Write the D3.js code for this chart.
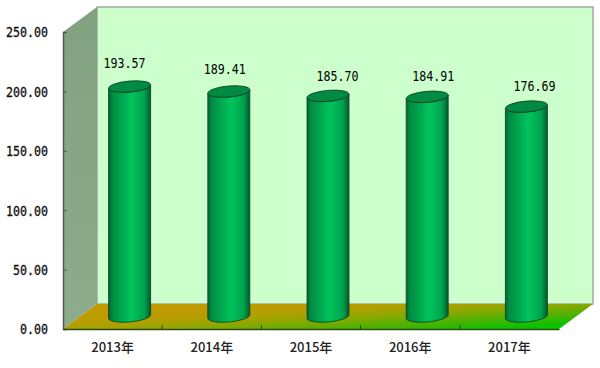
<!DOCTYPE html>
<html lang="zh">
<head>
<meta charset="utf-8">
<script src="https://d3js.org/d3.v7.min.js"></script>
<style>
html, body { margin: 0; padding: 0; background: #fff; }
svg { display: block; }
.val { font-family: "DejaVu Sans Mono", monospace; font-size: 13.5px; fill: #000; }
.yt text { font-family: "DejaVu Sans Mono", monospace; font-size: 13.5px; fill: #111; stroke: #111; stroke-width: 0.3px; }
.xt text { font-family: "Noto Sans CJK SC", sans-serif; font-size: 13px; font-weight: 500; fill: #222; }
</style>
</head>
<body>
<div id="chart"></div>
<script>
var years = ["2013年", "2014年", "2015年", "2016年", "2017年"];
var values = [193.57, 189.41, 185.70, 184.91, 176.69];
var yTicks = [0, 50, 100, 150, 200, 250];

var W = 600, H = 368;
var left = 63, right = 559, top3d = 32, bottom = 329;
var dx = 34, dy = -25; // depth of the box
var charW = 7; // half width digits

// the value labels were moved by hand in the original
var labelDx = [-5, -4, 9.5, 6, 8];
var labelDy = [-19, -17, -15, -16, -15.5];

var svg = d3.select("#chart").append("svg").attr("width", W).attr("height", H);

var x = d3.scaleBand().domain(years).range([left, right]);
var y = d3.scaleLinear().domain([0, 250]).range([bottom, top3d]);

var defs = svg.append("defs");

function grad(id, x1, y1, x2, y2, stops) {
  var g = defs.append("linearGradient").attr("id", id)
    .attr("gradientUnits", "userSpaceOnUse")
    .attr("x1", x1).attr("y1", y1).attr("x2", x2).attr("y2", y2);
  stops.forEach(function (s) {
    g.append("stop").attr("offset", s[0]).attr("stop-color", s[1]);
  });
}
grad("floor", 63, 304, 66, 354, [[0, "#c29a00"], [0.35, "#bc9c00"], [0.5, "#a8a200"], [0.66, "#80aa00"], [0.86, "#40b400"], [1, "#08c400"]]);
grad("side", 0, 30, 0, 330, [[0, "#82a282"], [1, "#8cac8c"]]);

var cylGrad = defs.append("linearGradient").attr("id", "cyl");
[[0, "#006431"], [0.08, "#008a42"], [0.55, "#00c45c"], [0.85, "#00a24e"], [1, "#005c2c"]].forEach(function (s) {
  cylGrad.append("stop").attr("offset", s[0]).attr("stop-color", s[1]);
});

// back wall
svg.append("rect")
  .attr("x", left + dx).attr("y", top3d + dy)
  .attr("width", right - left).attr("height", bottom - top3d)
  .attr("fill", "#ccffcc").attr("stroke", "#a3a8a3").attr("stroke-width", 1.5);

// left wall
svg.append("path")
  .attr("d", d3.line()([[left, top3d], [left + dx, top3d + dy], [left + dx, bottom + dy], [left, bottom]]) + "Z")
  .attr("fill", "url(#side)");

// floor
svg.append("path")
  .attr("d", d3.line()([[left, bottom], [left + dx, bottom + dy], [right + dx, bottom + dy], [right, bottom]]) + "Z")
  .attr("fill", "url(#floor)");

// axes
var yAxis = d3.axisLeft(y).tickValues(yTicks).tickSize(-4).tickPadding(15)
  .tickFormat(d3.format(".2f"));
var gy = svg.append("g").attr("class", "yt").attr("transform", "translate(" + left + ",0)").call(yAxis);
gy.select(".domain").attr("stroke", "#555").attr("stroke-width", 1.5);
gy.selectAll("line").attr("stroke", "#555");
gy.selectAll("text").attr("dy", "0.36em")
  .attr("textLength", function (d) { return d3.format(".2f")(d).length * charW; })
  .attr("lengthAdjust", "spacingAndGlyphs");

var xAxis = d3.axisBottom(x).tickSize(0).tickPadding(14);
var gx = svg.append("g").attr("class", "xt").attr("transform", "translate(0," + bottom + ")").call(xAxis);
gx.select(".domain").attr("stroke", "#2f4a18").attr("stroke-width", 1.5);

// separators on the floor edge
svg.selectAll(".sep").data(years.slice(1)).enter().append("line")
  .attr("x1", function (d) { return x(d); })
  .attr("x2", function (d) { return x(d); })
  .attr("y1", bottom).attr("y2", bottom - 4)
  .attr("stroke", "#2f4a18");

// cylinders
var rx = 21, ry = 5.5, tilt = -5, lift = 1.8;
var baseY = 316.5;
var scaleH = function (v) { return y(0) - y(v); };
var cx = function (i) { return x(years[i]) + x.bandwidth() / 2 + dx / 2; };

var bars = svg.selectAll(".cyl").data(values).enter().append("g").attr("class", "cyl");

bars.append("path")
  .attr("d", function (d, i) {
    var c = cx(i), t = baseY - scaleH(d);
    return "M" + (c - rx) + "," + (t + lift) +
      "L" + (c - rx) + "," + (baseY + lift) +
      "A" + rx + "," + ry + " " + tilt + " 0 0 " + (c + rx) + "," + (baseY - lift) +
      "L" + (c + rx) + "," + (t - lift) +
      "A" + rx + "," + ry + " " + tilt + " 0 1 " + (c - rx) + "," + (t + lift) + "Z";
  })
  .attr("fill", "url(#cyl)").attr("stroke", "#0c3c20").attr("stroke-width", 0.8);

bars.append("ellipse")
  .attr("rx", rx).attr("ry", ry)
  .attr("transform", function (d, i) {
    return "translate(" + cx(i) + "," + (baseY - scaleH(d)) + ") rotate(" + tilt + ")";
  })
  .attr("fill", "#008a42").attr("stroke", "#0c3c20").attr("stroke-width", 0.8);

bars.append("text").attr("class", "val")
  .attr("text-anchor", "middle")
  .attr("textLength", 6 * charW).attr("lengthAdjust", "spacingAndGlyphs")
  .attr("x", function (d, i) { return cx(i) + labelDx[i]; })
  .attr("y", function (d, i) { return baseY - scaleH(d) + labelDy[i]; })
  .text(function (d) { return d.toFixed(2); });
</script>
</body>
</html>
